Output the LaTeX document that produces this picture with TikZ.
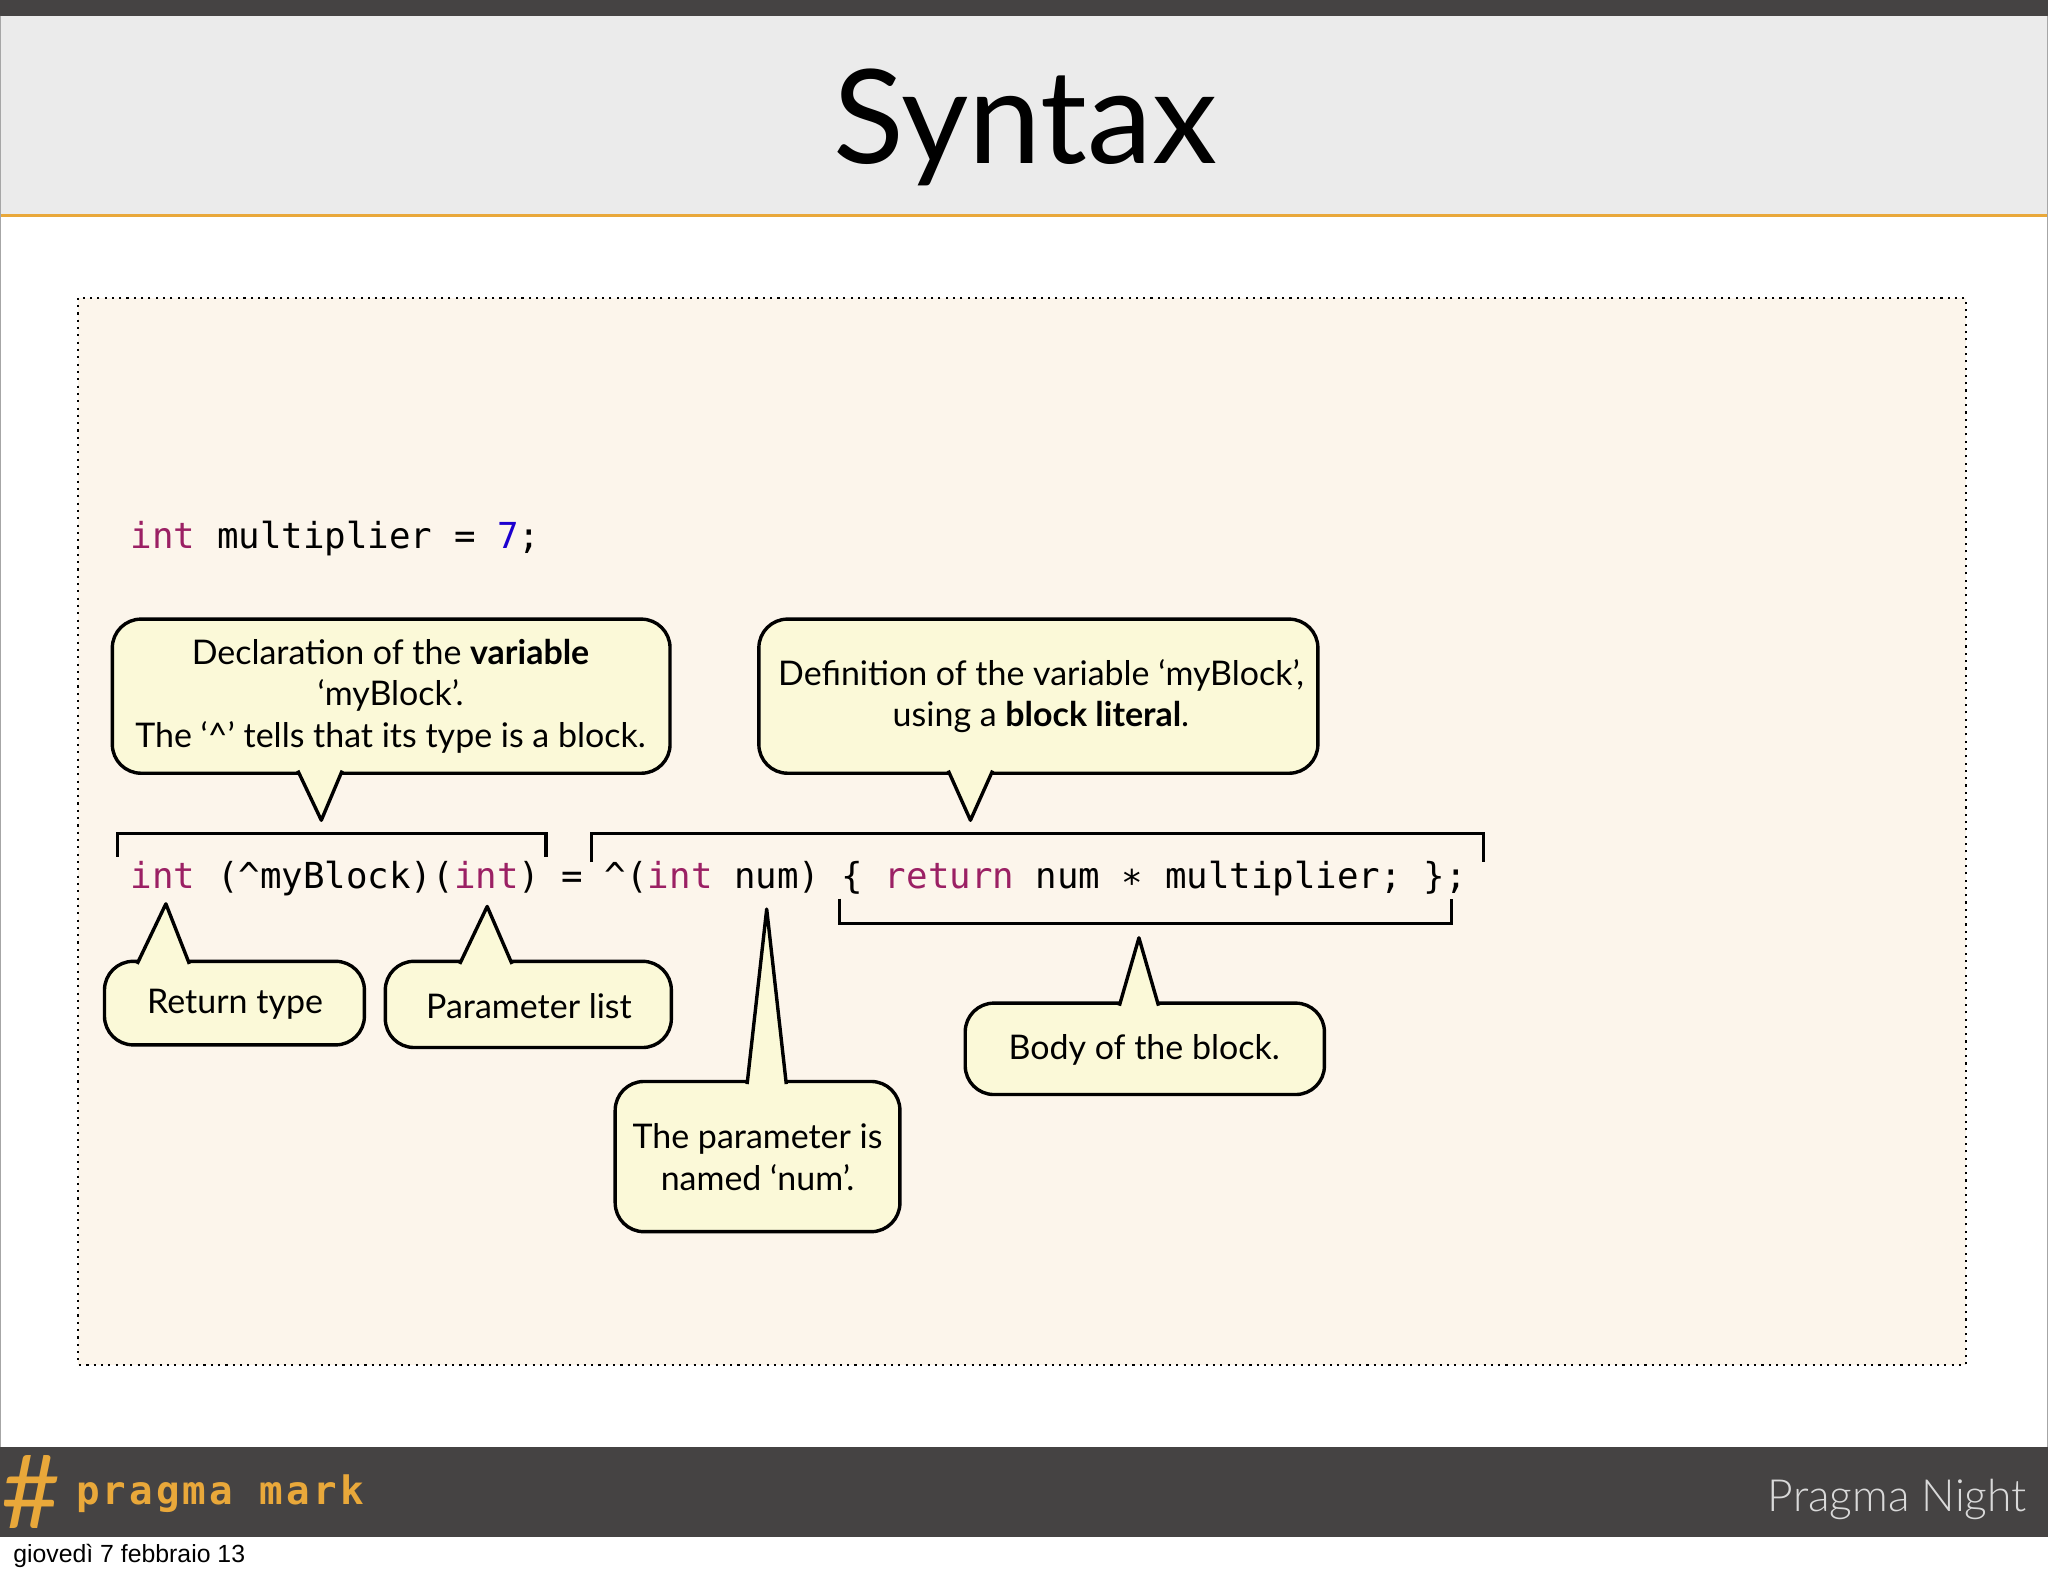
\documentclass[tikz,border=0pt]{standalone}
\usepackage{fontspec}
\setmainfont{Lato}
\setmonofont{DejaVu Sans Mono}
\newfontfamily\footfont{Liberation Sans}
\newfontfamily\logofont[LetterSpace=8]{DejaVu Sans Mono Bold}
\definecolor{kw}{HTML}{9B2064}
\definecolor{num}{HTML}{1C00CF}
\definecolor{bub}{HTML}{FBF9D8}
\definecolor{panel}{HTML}{FCF5EB}
\definecolor{hdr}{HTML}{EBEBEB}
\definecolor{bar}{HTML}{454343}
\definecolor{orng}{HTML}{E9A83A}
\tikzset{x=1pt,y=-1pt,
  bubble/.style={draw=black,line width=2.6pt,fill=bub,line join=round},
  btext/.style={font=\fontsize{26}{32}\selectfont,align=center,inner sep=0},
  brk/.style={draw=black,line width=2.4pt},
  code/.style={font=\ttfamily\fontsize{27.4}{30}\selectfont,anchor=base west,inner sep=0}}
% callout: x1,y1,x2,y2, base left, base right, tip x, tip y, base y
\newcommand{\callout}[9]{%
  \path[bubble,rounded corners=22pt] (#1,#2) rectangle (#3,#4);
  \fill[bub] (#5,#9) -- (#7,#8) -- (#6,#9) -- cycle;
  \draw[black,line width=2.6pt,line join=round] (#5,#9) -- (#7,#8) -- (#6,#9);}
\begin{document}
\begin{tikzpicture}
\useasboundingbox (0,0) rectangle (1568,1206);
\fill[white] (0,0) rectangle (1568,1206);
\fill[hdr] (0,0) rectangle (1568,165);
\fill[bar] (0,0) rectangle (1568,12);
\draw[orng,line width=2pt] (0,165) -- (1568,165);
\draw[gray!70,line width=1pt] (0.5,12) -- (0.5,1108) (1567.5,12) -- (1567.5,1108);
\node[font=\fontsize{100}{110}\selectfont,anchor=base] (title) at (785,125) {Syntax};
\path[fill=panel,draw=black,line width=1.6pt,dash pattern=on 1.6pt off 4pt] (60,228) rectangle (1505,1045);
% footer
\fill[bar] (0,1108) rectangle (1568,1177);
\node[font=\fontsize{78}{80}\selectfont,text=orng,anchor=base west,inner sep=0] (hash) at (1,1170) {\#};
\node[font=\logofont\fontsize{30}{32}\selectfont,text=orng,anchor=base west,inner sep=0] (logo) at (58,1152) {pragma mark};
\node[font=\fontsize{34}{36}\selectfont,text=white!85!black,anchor=base east,inner sep=0] (pn) at (1552,1157) {\fontspec{Lato Light}Pragma Night};
\node[font=\footfont\fontsize{19}{21}\selectfont,anchor=base west,inner sep=0] (date) at (10,1196) {giovedì 7 febbraio 13};
% code
\node[code] (l1) at (100,420) {\textcolor{kw}{int} multiplier = \textcolor{num}{7};};
\node[code] (l2) at (100,680) {\textcolor{kw}{int} (\string^myBlock)(\textcolor{kw}{int}) = \string^(\textcolor{kw}{int} num) \{ \textcolor{kw}{return} num ∗ multiplier; \};};
% brackets
\draw[brk] (90,656) -- (90,638) -- (418,638) -- (418,656);
\draw[brk] (453,660) -- (453,638) -- (1136,638) -- (1136,660);
\draw[brk] (643,688) -- (643,707) -- (1111,707) -- (1111,688);
% callouts
\callout{86}{474}{513}{592}{228}{262}{246}{628}{590}
\node[btext] (c1) at (299,533) {Declaration of the \textbf{variable}\\‘myBlock’.\\The ‘\string^’ tells that its type is a block.};
\callout{581}{474}{1009}{592}{726}{760}{743}{628}{590}
\node[btext] (c2) at (797,533) {Definition of the variable ‘myBlock’,\\using a \textbf{block literal}.};
\callout{80}{736}{279}{800}{105}{145}{127}{692}{738}
\node[btext] (c3) at (180,769) {Return type};
\callout{295}{736}{514}{802}{352}{392}{373}{694}{738}
\node[btext] (c4) at (405,770) {Parameter list};
\callout{471}{828}{689}{943}{572}{602}{587}{696}{830}
\node[btext] (c5) at (580,886) {The parameter is\\named ‘num’.};
\callout{739}{768}{1014}{838}{857}{887}{872}{718}{770}
\node[btext] (c6) at (876,804) {Body of the block.};
\end{tikzpicture}
\end{document}
